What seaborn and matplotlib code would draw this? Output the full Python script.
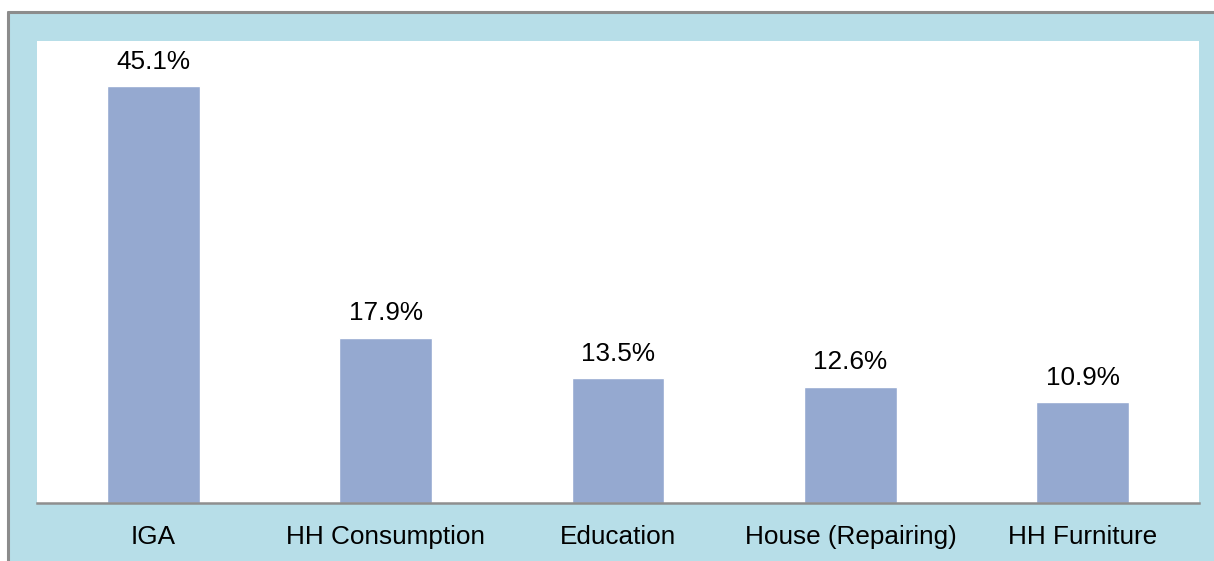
import matplotlib
matplotlib.use('Agg')
import matplotlib.pyplot as plt
import seaborn as sns
import pandas as pd
from matplotlib.lines import Line2D

# data
categories = ['IGA', 'HH Consumption', 'Education', 'House (Repairing)', 'HH Furniture']
shares = [45.1, 17.9, 13.5, 12.6, 10.9]
labels = ['45.1%', '17.9%', '13.5%', '12.6%', '10.9%']

df = pd.DataFrame({'category': categories, 'share': shares})

sns.set_style('white')
plt.rcParams['font.family'] = ['Liberation Sans', 'DejaVu Sans']
plt.rcParams['text.color'] = 'black'
plt.rcParams['xtick.color'] = 'black'

bg = '#b7dee8'
fig = plt.figure(figsize=(12.14, 5.61), dpi=100)
fig.patch.set_facecolor('white')

# light blue frame behind the plot, gray border top and left
fig.patches.append(plt.Rectangle((8 / 1214, 0), 1 - 8 / 1214, 1 - 12 / 561,
                                 transform=fig.transFigure, facecolor=bg,
                                 edgecolor='none', zorder=-5))
fig.lines.append(Line2D([7.5 / 1214, 1], [1 - 11.5 / 561, 1 - 11.5 / 561],
                        transform=fig.transFigure, color='#8c8c8c', lw=2.2))
fig.lines.append(Line2D([7.5 / 1214, 7.5 / 1214], [0, 1 - 11.5 / 561],
                        transform=fig.transFigure, color='#8c8c8c', lw=2.2))

ax = fig.add_axes([37 / 1214, 58 / 561, 1162 / 1214, 462 / 561])
ax.set_zorder(2)
ax.set_facecolor('white')

sns.barplot(data=df, x='category', y='share', color='#95a9d0', saturation=1,
            width=0.4, ax=ax)
ax.bar_label(ax.containers[0], labels=labels, padding=9, fontsize=18.8,
             color='black')

ax.set_ylim(0, 50)
ax.set_xlim(-0.5, len(categories) - 0.5)
ax.set_xlabel('')
ax.set_ylabel('')
ax.set_yticks([])
ax.tick_params(axis='x', length=0, pad=16, labelsize=18.8, labelcolor='black')
for side in ['top', 'right', 'left']:
    ax.spines[side].set_visible(False)
ax.spines['bottom'].set_color('#8f8f8f')
ax.spines['bottom'].set_linewidth(1.8)

fig.savefig('out.png', dpi=100, facecolor=fig.get_facecolor())
